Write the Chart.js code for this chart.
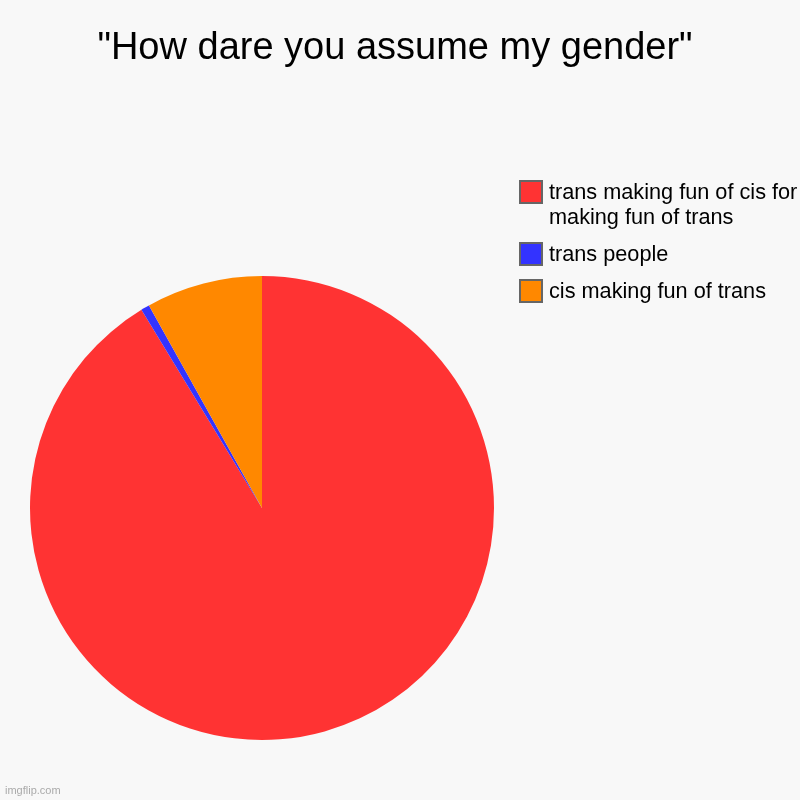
<!DOCTYPE html>
<html>
<head>
<meta charset="utf-8">
<script src="https://cdn.jsdelivr.net/npm/chart.js@4.4.1/dist/chart.umd.min.js"></script>
<style>
    body { margin: 0; background: #f8f8f8; }
    canvas { display: block; }
</style>
</head>
<body>
<canvas id="pieChart" width="800" height="800"></canvas>
<script>
const chartTitle = '"How dare you assume my gender"';
const labels = [
    ['trans making fun of cis for', 'making fun of trans'],
    ['trans people'],
    ['cis making fun of trans']
];
const values = [91.3, 0.6, 8.1];
const colors = ['#ff3333', '#3333ff', '#ff8800'];

const FONT = '"Liberation Sans", Arial, sans-serif';

// background, title, legend and watermark drawn on the canvas
const decor = {
    id: 'decor',
    beforeDraw(chart) {
        const ctx = chart.ctx;
        ctx.save();
        ctx.fillStyle = '#f8f8f8';
        ctx.fillRect(0, 0, chart.width, chart.height);
        ctx.restore();
    },
    afterDraw(chart) {
        const ctx = chart.ctx;
        ctx.save();

        ctx.fillStyle = '#000';
        ctx.font = '38px ' + FONT;
        ctx.textAlign = 'center';
        ctx.textBaseline = 'middle';
        ctx.fillText(chartTitle, 395, 49);

        ctx.font = '21.7px ' + FONT;
        ctx.textAlign = 'left';
        let y = 192;
        labels.forEach((lines, i) => {
            ctx.fillStyle = colors[i];
            ctx.fillRect(520, y - 11, 22, 22);
            ctx.strokeStyle = '#666';
            ctx.lineWidth = 2;
            ctx.strokeRect(520, y - 11, 22, 22);
            ctx.fillStyle = '#000';
            lines.forEach((line, j) => {
                ctx.fillText(line, 549, y + 1 + j * 25);
            });
            y += (lines.length - 1) * 25 + 37;
        });

        ctx.fillStyle = '#aaa';
        ctx.font = '11px ' + FONT;
        ctx.fillText('imgflip.com', 5, 791);
        ctx.restore();
    }
};

new Chart(document.getElementById('pieChart'), {
    type: 'pie',
    data: {
        labels: labels.map(l => l.join(' ')),
        datasets: [{
            data: values,
            backgroundColor: colors,
            borderWidth: 0
        }]
    },
    options: {
        responsive: false,
        animation: false,
        devicePixelRatio: 1,
        layout: {
            padding: { left: 30, right: 306, top: 276, bottom: 60 }
        },
        plugins: {
            legend: { display: false },
            title: { display: false },
            tooltip: { enabled: false }
        }
    },
    plugins: [decor]
});
</script>
</body>
</html>
